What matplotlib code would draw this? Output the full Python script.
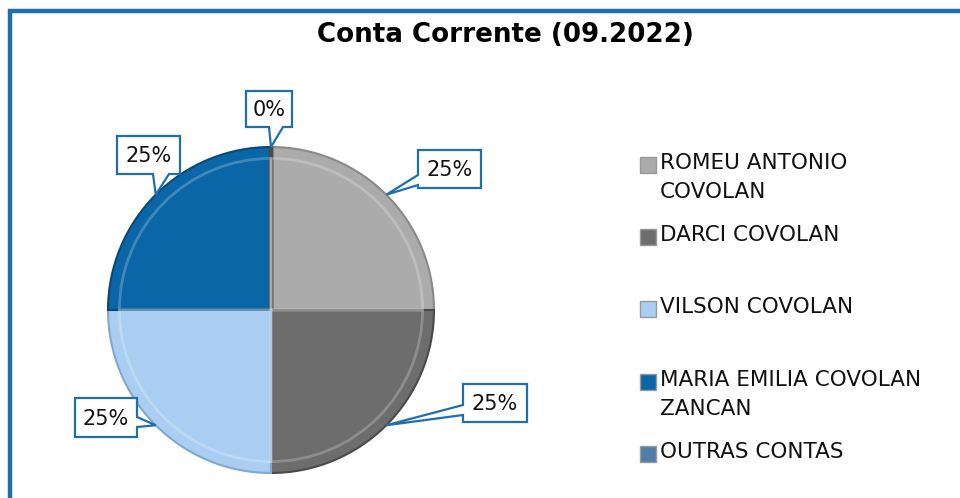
import numpy as np
import matplotlib.pyplot as plt
from matplotlib.patches import Polygon, Rectangle

# Dados
nomes = ['ROMEU ANTONIO\nCOVOLAN', 'DARCI COVOLAN', 'VILSON COVOLAN',
         'MARIA EMILIA COVOLAN\nZANCAN', 'OUTRAS CONTAS']
percentuais = [25, 25, 25, 25, 0]
cores = ['#ABABAB', '#6D6D6D', '#A9CEF1', '#0A66A6', '#4F7FA8']
bordas = ['#8A8A8A', '#4A4A4A', '#7FA9CF', '#06497A', '#4A4A4A']
titulo = 'Conta Corrente (09.2022)'

azul = '#1F6FAE'
plt.rcParams['font.family'] = ['DejaVu Sans']

fig = plt.figure(figsize=(9.6, 4.98), dpi=100)

# eixo do gráfico de pizza (centro ~ (271, 310) px, raio ~163 px)
cx, cy, R = 271, 310, 163
half = 200
axp = fig.add_axes([(cx - half) / 960, (498 - cy - half) / 498,
                    2 * half / 960, 2 * half / 498])
wedges, _ = axp.pie(percentuais, colors=cores, startangle=90, counterclock=False,
                    radius=1, wedgeprops=dict(linewidth=1.5))
for w, b in zip(wedges, bordas):
    w.set_edgecolor(b)
wedges[-1].set_linewidth(3.5)
# brilho do bisel
axp.pie(percentuais, colors=['none'] * 5, startangle=90, counterclock=False,
        radius=0.93, wedgeprops=dict(linewidth=2, edgecolor=(1, 1, 1, 0.22)))
axp.set_xlim(-half / R, half / R)
axp.set_ylim(-half / R, half / R)
axp.set_aspect('equal')
axp.axis('off')

# eixo de sobreposição em pixels
ov = fig.add_axes([0, 0, 1, 1], facecolor='none')
ov.set_xlim(0, 960)
ov.set_ylim(498, 0)
ov.axis('off')

# moldura
ov.plot([10, 10, 960], [498, 11, 11], color=azul, lw=3.2, solid_joinstyle='miter')

ov.text(505, 35, titulo, ha='center', va='center', fontsize=18.8,
        fontweight='bold', color='#000000')

# rótulos de dados (caixa, lado do ponteiro, base do ponteiro)
caixas = [
    ((418, 150, 481, 188), 'left', (175, 185)),
    ((463, 384, 527, 422), 'left', (405, 415)),
    ((75, 398, 137, 437), 'right', (417, 427)),
    ((117, 136, 180, 174), 'bottom', (153, 169)),
    ((246, 91, 292, 127), 'bottom', (269, 283)),
]

to_px = axp.transData + ov.transData.inverted()
for w, p, (box, lado, (p1, p2)) in zip(wedges, percentuais, caixas):
    ang = np.deg2rad((w.theta1 + w.theta2) / 2)
    tip = tuple(to_px.transform((np.cos(ang), np.sin(ang))))
    x0, y0, x1, y1 = box
    if lado == 'left':
        pts = [(x0, y0), (x1, y0), (x1, y1), (x0, y1), (x0, p2), tip, (x0, p1)]
    elif lado == 'right':
        pts = [(x0, y0), (x1, y0), (x1, p1), tip, (x1, p2), (x1, y1), (x0, y1)]
    else:
        pts = [(x0, y0), (x1, y0), (x1, y1), (p2, y1), tip, (p1, y1), (x0, y1)]
    ov.add_patch(Polygon(pts, closed=True, facecolor='white', edgecolor=azul,
                         lw=1.6, joinstyle='miter', zorder=3))
    ov.text((x0 + x1) / 2, (y0 + y1) / 2 + 1, f'{p:.0f}%', ha='center', va='center',
            fontsize=15, color='#111111', zorder=4)

# legenda
leg_y = [165, 237, 309, 382, 454]
for nome, cor, y in zip(nomes, cores, leg_y):
    ov.add_patch(Rectangle((640, y - 8), 16, 16, facecolor=cor, edgecolor='#9A9A9A',
                           lw=1.0, zorder=3))
    ov.text(660, y - 12, nome, ha='left', va='top', fontsize=15.5,
            color='#111111', linespacing=1.55)

fig.savefig('out.png', dpi=100)
